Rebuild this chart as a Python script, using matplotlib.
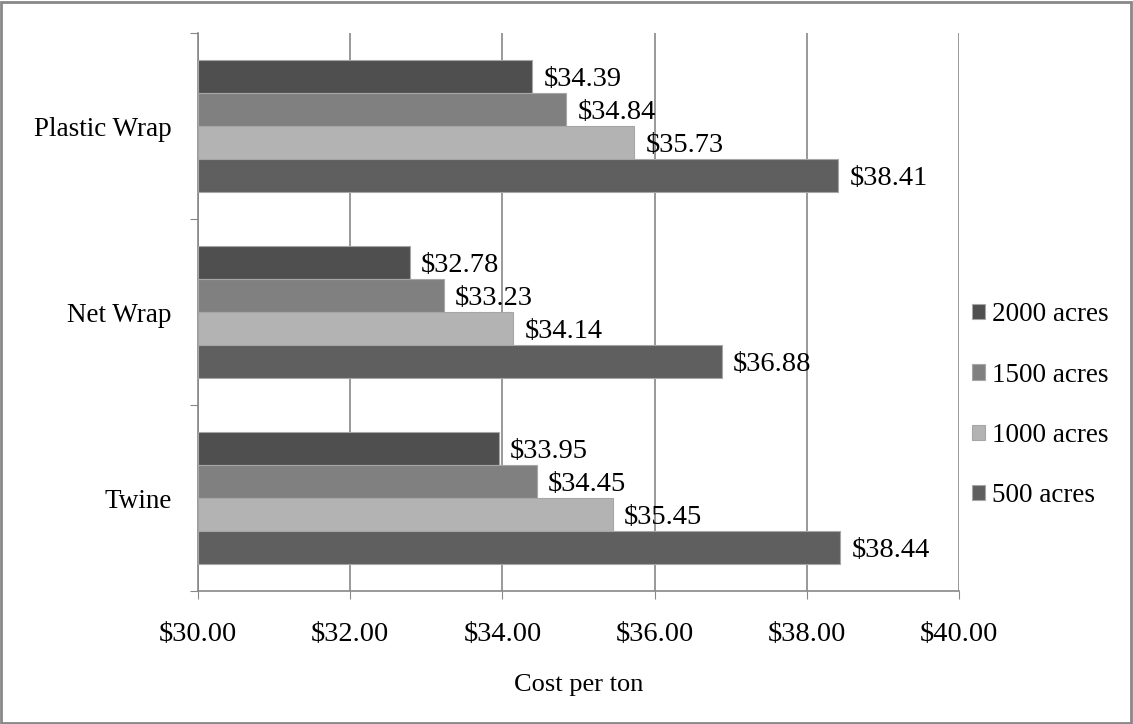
import matplotlib.pyplot as plt
import numpy as np
from matplotlib.patches import Rectangle

categories = ["Twine", "Net Wrap", "Plastic Wrap"]
series = ["2000 acres", "1500 acres", "1000 acres", "500 acres"]
values = {
    "2000 acres": [33.95, 32.78, 34.39],
    "1500 acres": [34.45, 33.23, 34.84],
    "1000 acres": [35.45, 34.14, 35.73],
    "500 acres": [38.44, 36.88, 38.41],
}
colors = ["#4F4F4F", "#808080", "#B3B3B3", "#5F5F5F"]
x_ticks = [30, 32, 34, 36, 38, 40]

plt.rcParams["font.family"] = ["Liberation Serif", "DejaVu Serif"]
fs = 20.5

fig = plt.figure(figsize=(11.33, 7.24), dpi=100)
ax = fig.add_axes([0.1748, 0.1837, 0.6716, 0.7707])

y = np.arange(len(categories))
h = 0.178
offsets = [1.5 * h, 0.5 * h, -0.5 * h, -1.5 * h]

for s, c, off in zip(series, colors, offsets):
    vals = np.array(values[s])
    ax.barh(y + off, vals - 30, h, left=30, color=c, edgecolor="#A6A6A6",
            linewidth=0.8, label=s, zorder=3)
    for yy, v in zip(y + off, vals):
        ax.text(v + 0.15, yy, "$%.2f" % v, ha="left", va="center_baseline",
                fontsize=fs, zorder=4)

ax.set_xlim(30, 40)
ax.set_ylim(-0.5, 2.5)
ax.set_xticks(x_ticks)
ax.set_xticklabels(["$%.2f" % t for t in x_ticks], fontsize=fs)
ax.set_yticks([-0.5, 0.5, 1.5, 2.5])
ax.set_yticklabels([])
ax.set_yticks(y, minor=True)
ax.set_yticklabels(categories, minor=True, fontsize=19.5)
ax.tick_params(axis="y", which="minor", length=0, pad=19)
ax.tick_params(axis="y", which="major", length=6, color="#888888")
ax.tick_params(axis="x", length=6, color="#888888", pad=16)

ax.grid(axis="x", color="#888888", lw=1.2, zorder=0)
for side in ["top", "right"]:
    ax.spines[side].set_visible(False)
for side in ["left", "bottom"]:
    ax.spines[side].set_color("#888888")
    ax.spines[side].set_linewidth(1.2)

ax.set_xlabel("Cost per ton", fontsize=19, labelpad=20)

ax.legend(loc="center left", bbox_to_anchor=(0.985, 0.333), frameon=False,
          fontsize=19.5, handlelength=0.48, handleheight=0.48, handletextpad=0.25,
          labelspacing=1.3)

fig.patches.append(Rectangle((0.001, 0.002), 0.997, 0.995, transform=fig.transFigure,
                             fill=False, edgecolor="#888888", lw=2))

plt.savefig("out.png", dpi=100)
